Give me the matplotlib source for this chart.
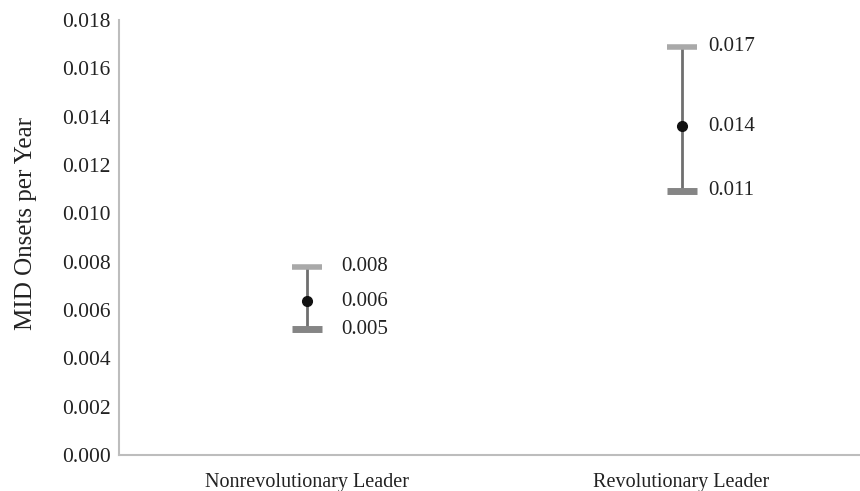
import numpy as np
import matplotlib.pyplot as plt

# data
categories = ['Nonrevolutionary Leader', 'Revolutionary Leader']
high = [0.00778, 0.01690]
mean = [0.00637, 0.01361]
low = [0.00521, 0.01094]
high_lbl = ['0.008', '0.017']
mean_lbl = ['0.006', '0.014']
low_lbl = ['0.005', '0.011']
yticks = np.arange(0, 0.0181, 0.002)

plt.rcParams['font.family'] = ['Liberation Serif', 'DejaVu Serif']

fig = plt.figure(figsize=(8.6, 4.91), dpi=100)
ax = fig.add_axes([0.1384, 0.0733, 0.8616, 0.886])

x = np.arange(len(categories))
ax.vlines(x, low, high, color='#6f6f6f', lw=2, zorder=2)
ax.plot(x, high, ls='none', marker='_', ms=21, mew=4, color='#a9a9a9', zorder=3)
ax.plot(x, low, ls='none', marker='_', ms=21, mew=5, color='#858585', zorder=3)
ax.plot(x, mean, ls='none', marker='o', ms=7, color='#111111', zorder=4)

# value labels to the right of each bar
offsets = [25, 19]  # points
for i in range(len(categories)):
    for val, txt in ((high[i], high_lbl[i]), (mean[i], mean_lbl[i]), (low[i], low_lbl[i])):
        ax.annotate(txt, (x[i], val), xytext=(offsets[i], 0), textcoords='offset points',
                    va='center', ha='left', fontsize=15, color='#222222')

ax.set_xlim(-0.5, 1.476)
ax.set_ylim(0, 0.018)
ax.set_yticks(yticks)
ax.set_yticklabels([f'{v:.3f}' for v in yticks])
ax.set_xticks(x)
ax.set_xticklabels(categories)
ax.tick_params(axis='both', length=0, labelcolor='#222222')
ax.tick_params(axis='y', pad=6, labelsize=15.5)
ax.tick_params(axis='x', pad=13, labelsize=14.5)
ax.set_ylabel('MID Onsets per Year', fontsize=18, color='#222222')
ax.yaxis.label.set_verticalalignment('center')
ax.yaxis.set_label_coords(-0.1255, 0.533)

for s in ['top', 'right']:
    ax.spines[s].set_visible(False)
for s in ['left', 'bottom']:
    ax.spines[s].set_color('#bdbdbd')
    ax.spines[s].set_linewidth(1.5)

fig.savefig('out.png', dpi=100)
